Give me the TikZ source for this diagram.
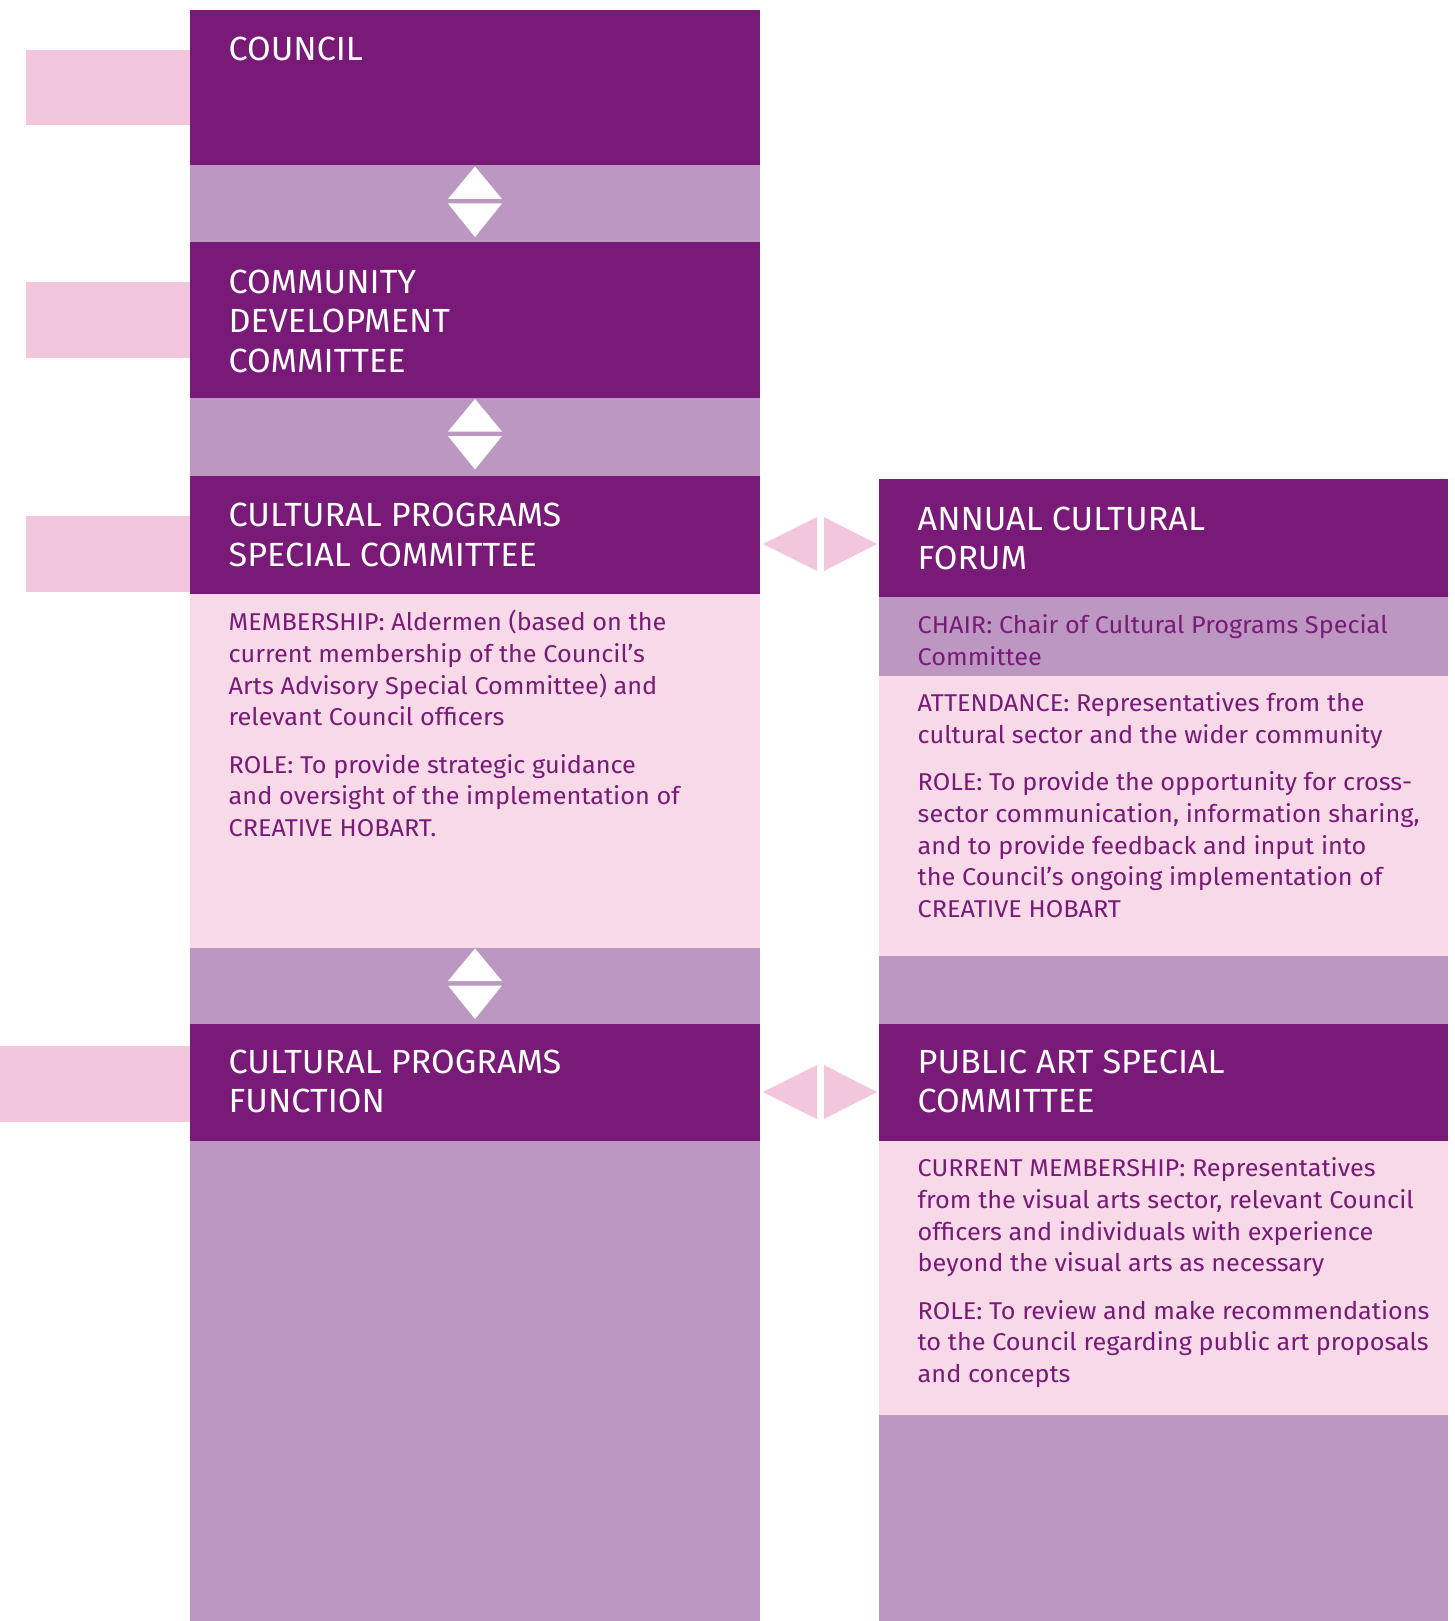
\documentclass[tikz,border=0pt]{standalone}
\usepackage{fontspec}
\setmainfont{Fira Sans}
\newfontfamily\ttlfont{Fira Sans}[FakeStretch=1.02]
\newfontfamily\bdyfont{Fira Sans}[FakeStretch=1.04]
\definecolor{dpurple}{HTML}{7A1A78}
\definecolor{lpurple}{HTML}{BB97C2}
\definecolor{pinkbody}{HTML}{F7D9E8}
\definecolor{pinktab}{HTML}{F2C6DC}
\newcommand{\lines}[1]{\begin{tabular}[t]{@{}l@{}}#1\end{tabular}}
\begin{document}
\begin{tikzpicture}[x=1pt,y=-1pt,
  ttl/.style={anchor=base west, inner sep=0pt, text=white, font=\ttlfont\fontsize{33.5}{39.5}\selectfont},
  bdy/.style={anchor=base west, inner sep=0pt, text=dpurple, font=\bdyfont\fontsize{24.3}{31.7}\selectfont},
  vtri/.style={fill=white},
  htri/.style={fill=pinktab}]
\useasboundingbox (0,0) rectangle (1455,1621);
\fill[white] (0,0) rectangle (1455,1621);
% side tabs
\fill[pinktab] (25.5,49.6) rectangle (190,125.1);
\fill[pinktab] (25.5,282.3) rectangle (190,357.8);
\fill[pinktab] (25.5,516) rectangle (190,591.5);
\fill[pinktab] (0,1046.3) rectangle (190,1122);
% left column
\fill[dpurple] (190,10.3) rectangle (760,165.5);
\fill[lpurple] (190,165.5) rectangle (760,242);
\fill[dpurple] (190,242) rectangle (760,398);
\fill[lpurple] (190,398) rectangle (760,475.7);
\fill[dpurple] (190,475.7) rectangle (760,593.6);
\fill[pinkbody] (190,593.6) rectangle (760,948);
\fill[lpurple] (190,948) rectangle (760,1023.5);
\fill[dpurple] (190,1023.5) rectangle (760,1141.3);
\fill[lpurple] (190,1141.3) rectangle (760,1621);
% right column
\fill[dpurple] (879,478.8) rectangle (1448,596.7);
\fill[lpurple] (879,596.7) rectangle (1448,675.5);
\fill[pinkbody] (879,675.5) rectangle (1448,955.5);
\fill[lpurple] (879,955.5) rectangle (1448,1023.5);
\fill[dpurple] (879,1023.5) rectangle (1448,1140.7);
\fill[pinkbody] (879,1140.7) rectangle (1448,1415);
\fill[lpurple] (879,1415) rectangle (1448,1621);
% vertical double triangles
\foreach \t in {165.5,398,947.5}{
  \fill[vtri] (475,\t+1) -- (502,\t+33.5) -- (448,\t+33.5) -- cycle;
  \fill[vtri] (448,\t+38) -- (502,\t+38) -- (475,\t+71.5) -- cycle;
}
% horizontal double triangles
\foreach \c in {544,1092}{
  \fill[htri] (763,\c) -- (817,\c-27) -- (817,\c+27) -- cycle;
  \fill[htri] (824,\c-27) -- (877,\c) -- (824,\c+27) -- cycle;
}
% titles
\node[ttl] (council) at (228.5,61) {COUNCIL};
\node[ttl] (cdc) at (228.5,293.3) {\lines{COMMUNITY\\DEVELOPMENT\\COMMITTEE}};
\node[ttl] (cpsc) at (228.5,526.7) {\lines{CULTURAL PROGRAMS\\SPECIAL COMMITTEE}};
\node[ttl] (cpf) at (228.5,1073.3) {\lines{CULTURAL PROGRAMS\\FUNCTION}};
\node[ttl] (acf) at (917.5,530) {\lines{ANNUAL CULTURAL\\FORUM}};
\node[ttl] (pasc) at (917.5,1073.3) {\lines{PUBLIC ART SPECIAL\\COMMITTEE}};
% bodies
\node[bdy] (cpscbody) at (228.5,630.7) {\lines{MEMBERSHIP: Aldermen (based on the\\current membership of the Council’s\\Arts Advisory Special Committee) and\\relevant Council officers\\[15.5pt]ROLE: To provide strategic guidance\\and oversight of the implementation of\\CREATIVE HOBART.}};
\node[bdy] (acfchair) at (917.5,633.3) {\lines{CHAIR: Chair of Cultural Programs Special\\Committee}};
\node[bdy] (acfbody) at (917.5,711.7) {\lines{ATTENDANCE: Representatives from the\\cultural sector and the wider community\\[15.5pt]ROLE: To provide the opportunity for cross-\\sector communication, information sharing,\\and to provide feedback and input into\\the Council’s ongoing implementation of\\CREATIVE HOBART}};
\node[bdy] (pascbody) at (917.5,1176.7) {\lines{CURRENT MEMBERSHIP: Representatives\\from the visual arts sector, relevant Council\\officers and individuals with experience\\beyond the visual arts as necessary\\[15.5pt]ROLE: To review and make recommendations\\to the Council regarding public art proposals\\and concepts}};
\end{tikzpicture}
\end{document}
